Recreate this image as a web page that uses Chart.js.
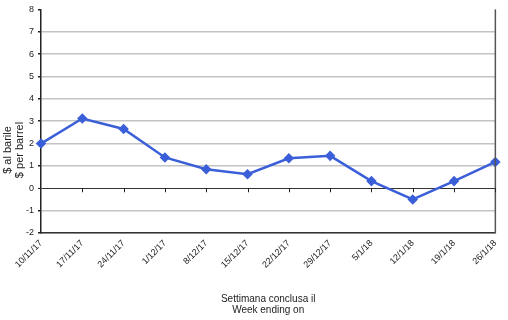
<!DOCTYPE html>
<html>
<head>
<meta charset="utf-8">
<script src="https://cdn.jsdelivr.net/npm/chart.js@4.4.0/dist/chart.umd.min.js"></script>
<style>
  html, body { margin: 0; padding: 0; background: #fff; }
  #wrap { width: 508px; height: 320px; }
</style>
</head>
<body>
<div id="wrap"><canvas id="myChart" width="508" height="320"></canvas></div>
<script>
// dati
const weeks = ['10/11/17', '17/11/17', '24/11/17', '1/12/17', '8/12/17', '15/12/17',
               '22/12/17', '29/12/17', '5/1/18', '12/1/18', '19/1/18', '26/1/18'];
const spread = [2.0, 3.12, 2.65, 1.38, 0.85, 0.63, 1.34, 1.45, 0.32, -0.5, 0.32, 1.18];
const yTitle = ['$ al barile', '$ per barrel'];
const xTitle = ['Settimana conclusa il', 'Week ending on'];

const FONT = 'Liberation Sans, Arial, sans-serif';

// titoli, bordo destro e tacche sulla linea dello zero
const extras = {
    id: 'extras',
    afterDraw(chart) {
        const ctx = chart.ctx;
        const area = chart.chartArea;
        const x = chart.scales.x, y = chart.scales.y;
        ctx.save();
        ctx.strokeStyle = '#555';
        ctx.lineWidth = 1.5;
        ctx.beginPath();
        ctx.moveTo(area.right, area.top);
        ctx.lineTo(area.right, area.bottom);
        ctx.stroke();

        const y0 = y.getPixelForValue(0);
        ctx.strokeStyle = '#222';
        ctx.lineWidth = 1;
        for (let i = 1; i < weeks.length; i++) {
            const px = Math.round(x.getPixelForValue(i)) + 0.5;
            ctx.beginPath();
            ctx.moveTo(px, y0);
            ctx.lineTo(px, y0 + 4);
            ctx.stroke();
        }

        ctx.fillStyle = '#222';
        ctx.font = '10px ' + FONT;
        ctx.textAlign = 'center';
        ctx.textBaseline = 'middle';
        const cx = (area.left + area.right) / 2;
        ctx.fillText(xTitle[0], cx, 299);
        ctx.fillText(xTitle[1], cx, 310);

        ctx.font = '11px ' + FONT;
        ctx.translate(14, 150);
        ctx.rotate(-Math.PI / 2);
        ctx.fillText(yTitle[0], 0, -6);
        ctx.fillText(yTitle[1], 0, 6);
        ctx.restore();
    }
};

new Chart(document.getElementById('myChart').getContext('2d'), {
    type: 'line',
    data: {
        labels: weeks,
        datasets: [{
            data: spread,
            borderColor: '#3b5fd9',
            backgroundColor: '#3b5fd9',
            borderWidth: 2.5,
            pointStyle: 'rectRot',
            pointRadius: 3.5,
            tension: 0
        }]
    },
    options: {
        responsive: false,
        animation: false,
        layout: { padding: { top: 7, right: 11, left: 0, bottom: 0 } },
        plugins: { legend: { display: false }, tooltip: { enabled: false } },
        scales: {
            x: {
                offset: false,
                grid: { display: false, drawTicks: false },
                border: { color: '#333', width: 1.5 },
                afterFit: s => { s.height = 87; },
                ticks: {
                    autoSkip: false,
                    maxRotation: 45,
                    minRotation: 45,
                    padding: 5,
                    color: '#222',
                    font: { family: FONT, size: 9 }
                }
            },
            y: {
                min: -2,
                max: 8,
                afterFit: s => { s.width = 41; },
                border: { color: '#222', width: 1.5 },
                grid: {
                    color: c => c.tick.value === 0 ? '#333' : (c.tick.value === 8 ? 'rgba(0,0,0,0)' : '#c4c4c4'),
                    lineWidth: c => c.tick.value === 0 ? 1 : 1.5,
                    tickColor: '#222',
                    tickLength: 3
                },
                ticks: {
                    stepSize: 1,
                    padding: 4,
                    color: '#222',
                    font: { family: FONT, size: 9 }
                }
            }
        }
    },
    plugins: [extras]
});
</script>
</body>
</html>
